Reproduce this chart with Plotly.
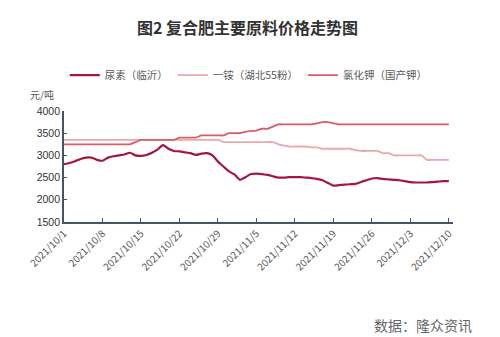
import pandas as pd
import plotly.graph_objects as go

# Daily prices, 2021-10-01 .. 2021-12-10 (yuan/ton)
dates = pd.date_range("2021-10-01", "2021-12-10", freq="D")

urea_linyi = [
    2800, 2830, 2870, 2920, 2950, 2950, 2900, 2880, 2950, 2980,
    3000, 3020, 3060, 3000, 2990, 3010, 3060, 3130, 3230, 3150,
    3100, 3090, 3070, 3050, 3010, 3040, 3050, 3000, 2860, 2750,
    2640, 2570, 2450, 2510, 2580, 2590, 2580, 2560, 2530, 2500,
    2500, 2510, 2510, 2510, 2500, 2490, 2470, 2440, 2380, 2320,
    2330, 2340, 2350, 2360, 2400, 2440, 2480, 2490, 2470, 2460,
    2450, 2440, 2420, 2400, 2390, 2390, 2390, 2400, 2410, 2420,
    2420,
]

map_hubei55 = [
    3350, 3350, 3350, 3350, 3350, 3350, 3350, 3350, 3350, 3350,
    3350, 3350, 3350, 3350, 3350, 3350, 3350, 3350, 3350, 3350,
    3350, 3350, 3350, 3350, 3350, 3350, 3350, 3350, 3350, 3300,
    3300, 3300, 3300, 3300, 3300, 3300, 3300, 3300, 3300, 3250,
    3220, 3200, 3200, 3200, 3200, 3180, 3180, 3150, 3150, 3150,
    3150, 3150, 3150, 3120, 3100, 3100, 3100, 3100, 3050, 3050,
    3000, 3000, 3000, 3000, 3000, 3000, 2900, 2900, 2900, 2900,
    2900,
]

kcl_domestic = [
    3250, 3250, 3250, 3250, 3250, 3250, 3250, 3250, 3250, 3250,
    3250, 3250, 3250, 3300, 3350, 3350, 3350, 3350, 3350, 3350,
    3350, 3400, 3400, 3400, 3400, 3450, 3450, 3450, 3450, 3450,
    3500, 3500, 3500, 3530, 3550, 3560, 3600, 3600, 3650, 3700,
    3700, 3700, 3700, 3700, 3700, 3700, 3720, 3750, 3750, 3720,
    3700, 3700, 3700, 3700, 3700, 3700, 3700, 3700, 3700, 3700,
    3700, 3700, 3700, 3700, 3700, 3700, 3700, 3700, 3700, 3700,
    3700,
]

series_names = ["尿素（临沂）", "一铵（湖北55粉）", "氯化钾（国产钾）"]
series_values = [urea_linyi, map_hubei55, kcl_domestic]
series_colors = ["#A3173F", "#ECA7AE", "#D85C6A"]
series_widths = [2.2, 1.8, 1.8]

tick_dates = pd.date_range("2021-10-01", "2021-12-10", freq="7D")
tick_labels = [f"{d.year}/{d.month}/{d.day}" for d in tick_dates]

CJK = "Noto Sans CJK SC"

fig = go.Figure()
for name, vals, color, w in zip(series_names, series_values, series_colors, series_widths):
    fig.add_trace(go.Scatter(
        x=dates, y=vals, name=name, mode="lines",
        line=dict(color=color, width=w, shape="spline", smoothing=0.6),
    ))

fig.update_layout(
    width=500, height=337,
    margin=dict(l=64, r=47, t=111, b=115),
    paper_bgcolor="white", plot_bgcolor="white",
    font=dict(family=CJK, color="#595959"),
    title=dict(
        text="<b>图2 复合肥主要原料价格走势图</b>",
        x=0.495, xanchor="center", y=0.917, yanchor="middle",
        font=dict(family=CJK, size=16, color="#333333"),
    ),
    legend=dict(
        orientation="h", x=0.475, xanchor="center",
        y=0.777, yref="container", yanchor="middle",
        font=dict(family=CJK, size=10.5, color="#595959"),
        itemwidth=30, entrywidth=0,
        bgcolor="rgba(0,0,0,0)",
    ),
    xaxis=dict(
        type="date",
        range=["2021-10-01", "2021-12-10 18:00"],
        tickvals=list(tick_dates), ticktext=tick_labels,
        tickangle=-45, tickfont=dict(family=CJK, size=10, color="#595959"),
        showgrid=False, zeroline=False,
        showline=True, linecolor="#44546A", linewidth=1.7,
        ticks="inside", ticklen=4, tickcolor="#44546A", tickwidth=1.2,
    ),
    yaxis=dict(
        range=[1500, 4000], dtick=500,
        tickfont=dict(family="Liberation Sans", size=10.5, color="#333333"),
        showgrid=False, zeroline=False,
        showline=True, linecolor="#44546A", linewidth=1.7,
        ticks="inside", ticklen=3, tickcolor="#44546A", tickwidth=1.2,
    ),
)

fig.add_annotation(
    text="元/吨", xref="paper", yref="paper", x=-0.057, y=1.15,
    xanchor="center", yanchor="middle", showarrow=False,
    font=dict(family=CJK, size=10, color="#595959"),
)
fig.add_annotation(
    text="数据：隆众资讯", xref="paper", yref="paper", x=1.055, y=-0.93,
    xanchor="right", yanchor="middle", showarrow=False,
    font=dict(family=CJK, size=14, color="#666666"),
)

fig.write_html("out.html")
